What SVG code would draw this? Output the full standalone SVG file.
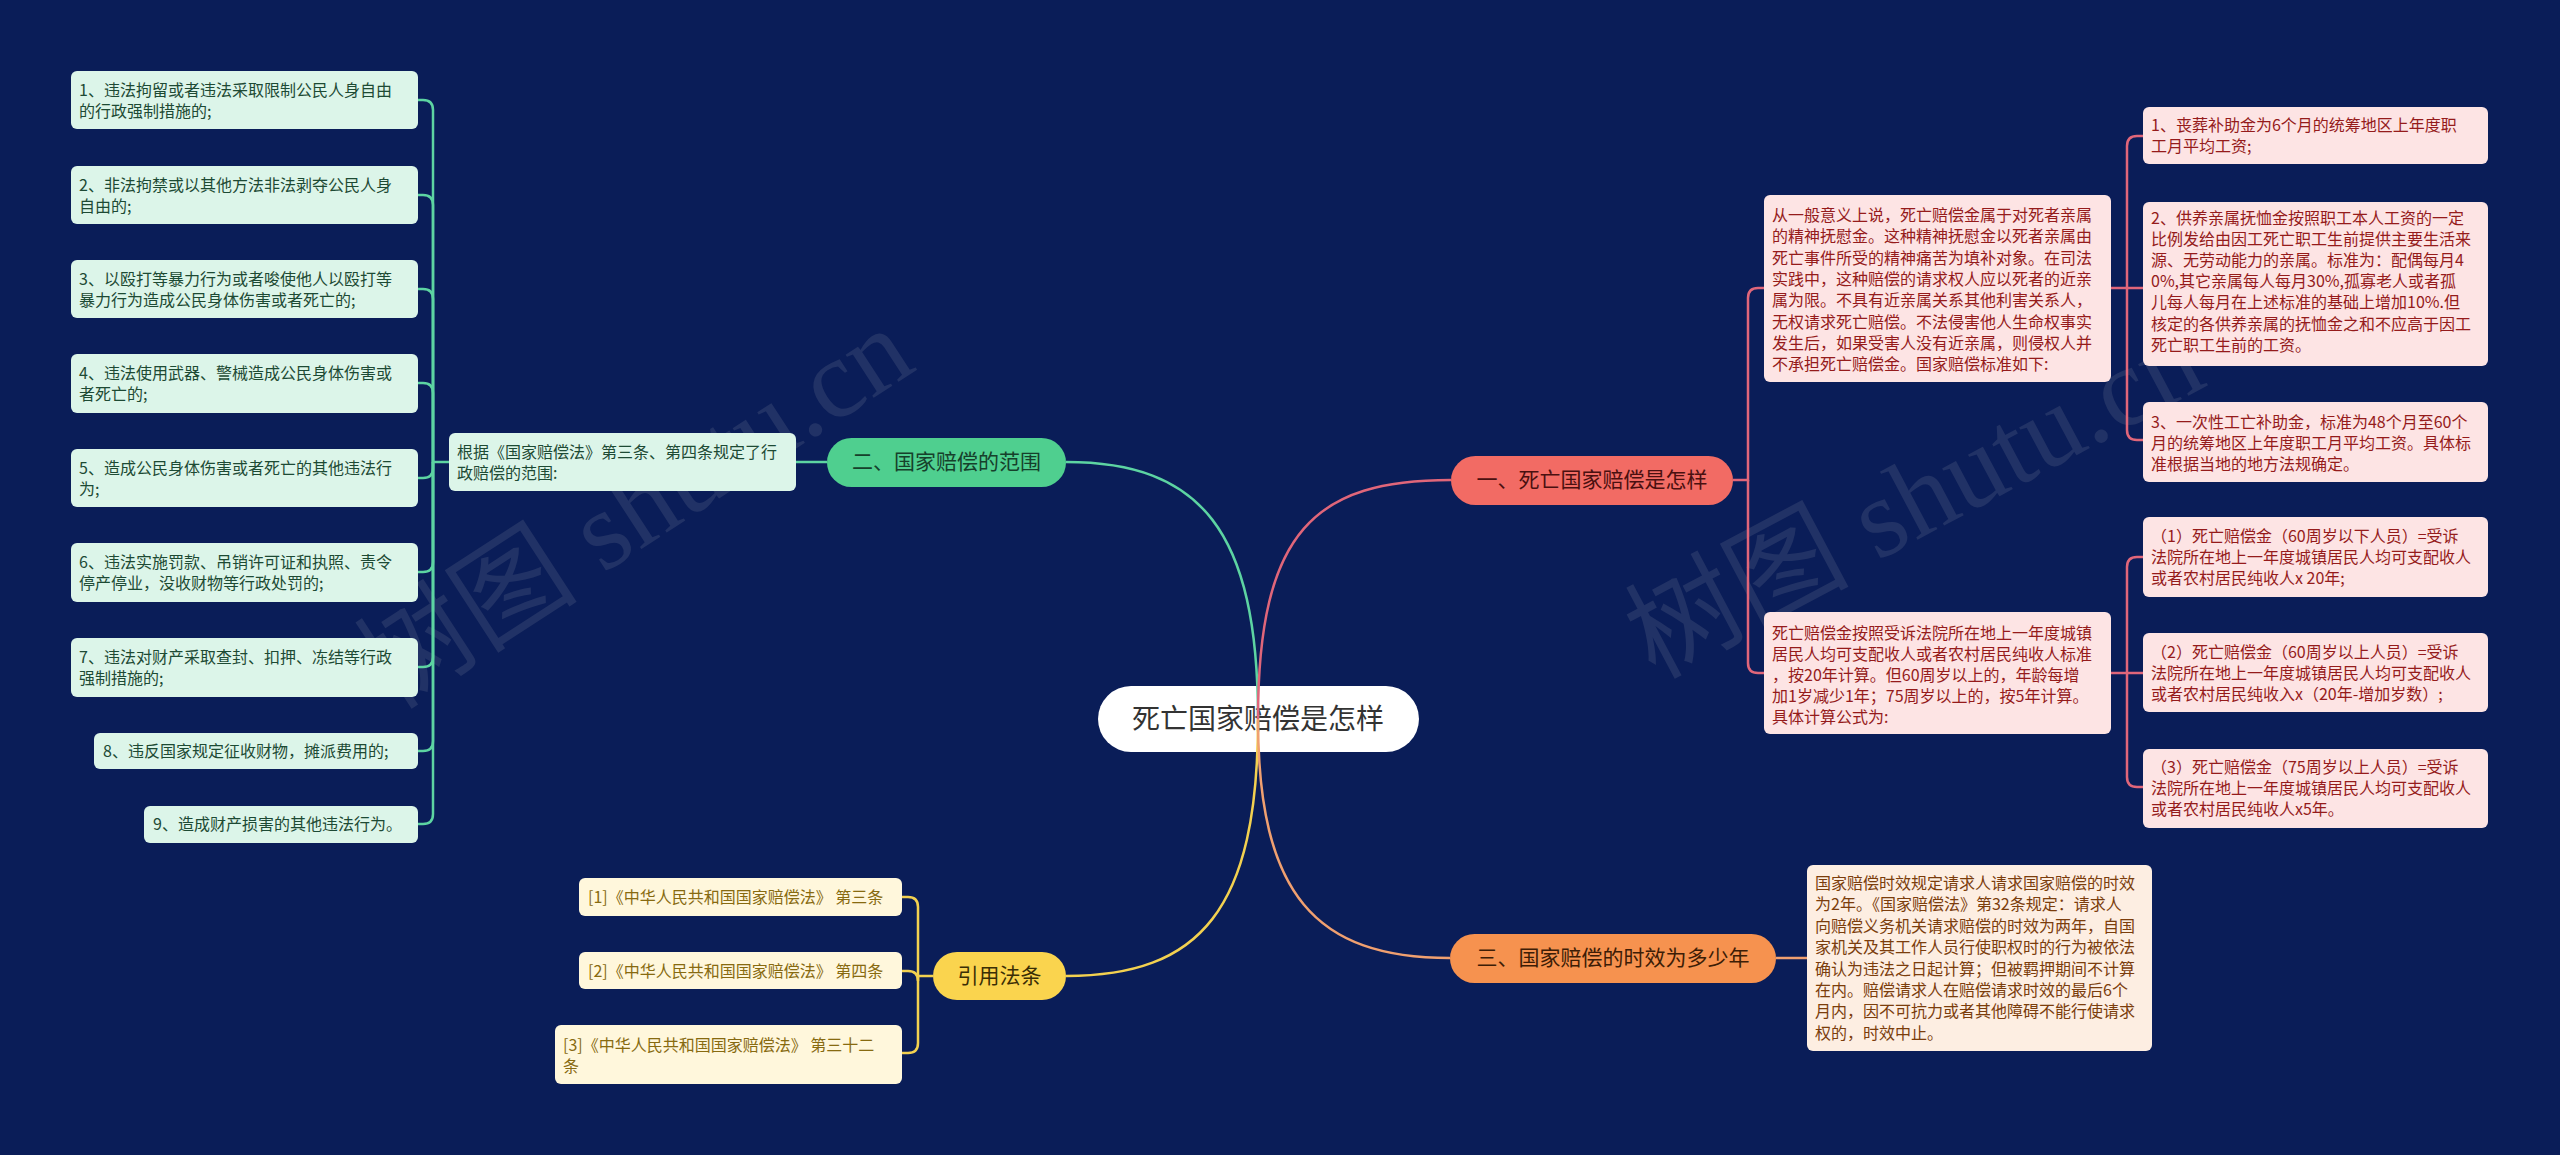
<svg xmlns="http://www.w3.org/2000/svg" width="2560" height="1155" viewBox="0 0 2560 1155">
<style>
text{font-family:"Noto Sans CJK SC","Noto Sans",sans-serif}
.bg{fill:#0a1d58}
.root{fill:#ffffff}
.rt{font-size:28px;fill:#333333;text-anchor:middle}
.bt{font-size:21px;text-anchor:middle}
.t{font-size:16px}
.gb{fill:#4fcf8f}.gbt{fill:#16402b}
.gi{fill:#dcf5e9}.git{fill:#1d4a34}
.rb{fill:#f26b64}.rbt{fill:#4a1010}
.ri{fill:#fde4e4}.rit{fill:#951b1b}
.ob{fill:#f6924f}.obt{fill:#3d1d06}
.oi{fill:#fdeee2}.oit{fill:#7b3d0c}
.yb{fill:#fad44e}.ybt{fill:#3a2e05}
.yi{fill:#fff7dc}.yit{fill:#876a10}
.c{fill:none;stroke-width:2.5}
.cg{stroke:#5dd4a2}.cr{stroke:#e0667a}.co{stroke:#f0a070}.cy{stroke:#f3d150}
.wm{font-size:112px;fill:#c8c8c8;opacity:0.12;font-family:"Liberation Serif","Noto Sans CJK SC",serif}
</style>
<rect class="bg" x="0" y="0" width="2560" height="1155"/>
<text class="wm" transform="translate(655,540) rotate(-33)" text-anchor="middle">树图 shutu.cn</text>
<text class="wm" transform="translate(1932,532) rotate(-28)" text-anchor="middle">树图 shutu.cn</text>

<g id="root">
<rect class="root" x="1098" y="686" width="321" height="66" rx="33"/>
<text class="rt" x="1258" y="729">死亡国家赔偿是怎样</text>
</g>

<g id="branch1">
<rect class="rb" x="1451" y="456" width="282" height="49" rx="24.5"/>
<text class="bt rbt" x="1592" y="487">一、死亡国家赔偿是怎样</text>
</g>
<g id="b1c1">
<rect class="ri" x="1764" y="195" width="347" height="187" rx="6"/>
<text class="t rit" x="1772" y="221">从一般意义上说，死亡赔偿金属于对死者亲属</text>
<text class="t rit" x="1772" y="242.3">的精神抚慰金。这种精神抚慰金以死者亲属由</text>
<text class="t rit" x="1772" y="263.6">死亡事件所受的精神痛苦为填补对象。在司法</text>
<text class="t rit" x="1772" y="284.9">实践中，这种赔偿的请求权人应以死者的近亲</text>
<text class="t rit" x="1772" y="306.2">属为限。不具有近亲属关系其他利害关系人，</text>
<text class="t rit" x="1772" y="327.5">无权请求死亡赔偿。不法侵害他人生命权事实</text>
<text class="t rit" x="1772" y="348.8">发生后，如果受害人没有近亲属，则侵权人并</text>
<text class="t rit" x="1772" y="370.1">不承担死亡赔偿金。国家赔偿标准如下:</text>
</g>
<g id="b1c2">
<rect class="ri" x="1764" y="612" width="347" height="122" rx="6"/>
<text class="t rit" x="1772" y="639">死亡赔偿金按照受诉法院所在地上一年度城镇</text>
<text class="t rit" x="1772" y="660">居民人均可支配收人或者农村居民纯收人标准</text>
<text class="t rit" x="1772" y="681">，按20年计算。但60周岁以上的，年龄每增</text>
<text class="t rit" x="1772" y="702">加1岁减少1年；75周岁以上的，按5年计算。</text>
<text class="t rit" x="1772" y="723">具体计算公式为:</text>
</g>
<g id="gc1">
<rect class="ri" x="2143" y="107" width="345" height="57" rx="6"/>
<text class="t rit" x="2151" y="131">1、丧葬补助金为6个月的统筹地区上年度职</text>
<text class="t rit" x="2151" y="152">工月平均工资;</text>
</g>
<g id="gc2">
<rect class="ri" x="2143" y="202" width="345" height="164" rx="6"/>
<text class="t rit" x="2151" y="224">2、供养亲属抚恤金按照职工本人工资的一定</text>
<text class="t rit" x="2151" y="245.1">比例发给由因工死亡职工生前提供主要生活来</text>
<text class="t rit" x="2151" y="266.2">源、无劳动能力的亲属。标准为：配偶每月4</text>
<text class="t rit" x="2151" y="287.3">0%,其它亲属每人每月30%,孤寡老人或者孤</text>
<text class="t rit" x="2151" y="308.4">儿每人每月在上述标准的基础上增加10%.但</text>
<text class="t rit" x="2151" y="329.5">核定的各供养亲属的抚恤金之和不应高于因工</text>
<text class="t rit" x="2151" y="350.6">死亡职工生前的工资。</text>
</g>
<g id="gc3">
<rect class="ri" x="2143" y="402" width="345" height="80" rx="6"/>
<text class="t rit" x="2151" y="428">3、一次性工亡补助金，标准为48个月至60个</text>
<text class="t rit" x="2151" y="449">月的统筹地区上年度职工月平均工资。具体标</text>
<text class="t rit" x="2151" y="470">准根据当地的地方法规确定。</text>
</g>
<g id="gc4">
<rect class="ri" x="2143" y="517" width="345" height="80" rx="6"/>
<text class="t rit" x="2151" y="542">（1）死亡赔偿金（60周岁以下人员）=受诉</text>
<text class="t rit" x="2151" y="563">法院所在地上一年度城镇居民人均可支配收人</text>
<text class="t rit" x="2151" y="584">或者农村居民纯收人x 20年;</text>
</g>
<g id="gc5">
<rect class="ri" x="2143" y="633" width="345" height="79" rx="6"/>
<text class="t rit" x="2151" y="658">（2）死亡赔偿金（60周岁以上人员）=受诉</text>
<text class="t rit" x="2151" y="679">法院所在地上一年度城镇居民人均可支配收人</text>
<text class="t rit" x="2151" y="700">或者农村居民纯收入x（20年-增加岁数）;</text>
</g>
<g id="gc6">
<rect class="ri" x="2143" y="749" width="345" height="79" rx="6"/>
<text class="t rit" x="2151" y="773">（3）死亡赔偿金（75周岁以上人员）=受诉</text>
<text class="t rit" x="2151" y="794">法院所在地上一年度城镇居民人均可支配收人</text>
<text class="t rit" x="2151" y="815">或者农村居民纯收人x5年。</text>
</g>

<g id="branch3">
<rect class="ob" x="1450" y="934" width="326" height="49" rx="24.5"/>
<text class="bt obt" x="1613" y="965">三、国家赔偿的时效为多少年</text>
</g>
<g id="b3c1">
<rect class="oi" x="1807" y="865" width="345" height="186" rx="6"/>
<text class="t oit" x="1815" y="889">国家赔偿时效规定请求人请求国家赔偿的时效</text>
<text class="t oit" x="1815" y="910.4">为2年。《国家赔偿法》第32条规定：请求人</text>
<text class="t oit" x="1815" y="931.8">向赔偿义务机关请求赔偿的时效为两年，自国</text>
<text class="t oit" x="1815" y="953.2">家机关及其工作人员行使职权时的行为被依法</text>
<text class="t oit" x="1815" y="974.6">确认为违法之日起计算；但被羁押期间不计算</text>
<text class="t oit" x="1815" y="996">在内。赔偿请求人在赔偿请求时效的最后6个</text>
<text class="t oit" x="1815" y="1017.4">月内，因不可抗力或者其他障碍不能行使请求</text>
<text class="t oit" x="1815" y="1038.8">权的，时效中止。</text>
</g>

<g id="branch2">
<rect class="gb" x="827" y="438" width="239" height="49" rx="24.5"/>
<text class="bt gbt" x="946.5" y="469">二、国家赔偿的范围</text>
</g>
<g id="b2c1">
<rect class="gi" x="449" y="433" width="347" height="58" rx="6"/>
<text class="t git" x="457" y="458">根据《国家赔偿法》第三条、第四条规定了行</text>
<text class="t git" x="457" y="479">政赔偿的范围:</text>
</g>
<g id="l1">
<rect class="gi" x="71" y="71" width="347" height="58" rx="6"/>
<text class="t git" x="79" y="96">1、违法拘留或者违法采取限制公民人身自由</text>
<text class="t git" x="79" y="117">的行政强制措施的;</text>
</g>
<g id="l2">
<rect class="gi" x="71" y="166" width="347" height="58" rx="6"/>
<text class="t git" x="79" y="191">2、非法拘禁或以其他方法非法剥夺公民人身</text>
<text class="t git" x="79" y="212">自由的;</text>
</g>
<g id="l3">
<rect class="gi" x="71" y="260" width="347" height="58" rx="6"/>
<text class="t git" x="79" y="285">3、以殴打等暴力行为或者唆使他人以殴打等</text>
<text class="t git" x="79" y="306">暴力行为造成公民身体伤害或者死亡的;</text>
</g>
<g id="l4">
<rect class="gi" x="71" y="354" width="347" height="59" rx="6"/>
<text class="t git" x="79" y="379">4、违法使用武器、警械造成公民身体伤害或</text>
<text class="t git" x="79" y="400">者死亡的;</text>
</g>
<g id="l5">
<rect class="gi" x="71" y="449" width="347" height="58" rx="6"/>
<text class="t git" x="79" y="474">5、造成公民身体伤害或者死亡的其他违法行</text>
<text class="t git" x="79" y="495">为;</text>
</g>
<g id="l6">
<rect class="gi" x="71" y="543" width="347" height="59" rx="6"/>
<text class="t git" x="79" y="568">6、违法实施罚款、吊销许可证和执照、责令</text>
<text class="t git" x="79" y="589">停产停业，没收财物等行政处罚的;</text>
</g>
<g id="l7">
<rect class="gi" x="71" y="638" width="347" height="59" rx="6"/>
<text class="t git" x="79" y="663">7、违法对财产采取查封、扣押、冻结等行政</text>
<text class="t git" x="79" y="684">强制措施的;</text>
</g>
<g id="l8">
<rect class="gi" x="94" y="733" width="324" height="36" rx="6"/>
<text class="t git" x="103" y="757">8、违反国家规定征收财物，摊派费用的;</text>
</g>
<g id="l9">
<rect class="gi" x="144" y="806" width="274" height="37" rx="6"/>
<text class="t git" x="153" y="830">9、造成财产损害的其他违法行为。</text>
</g>

<g id="branch4">
<rect class="yb" x="933" y="952" width="133" height="48" rx="24"/>
<text class="bt ybt" x="999.5" y="983">引用法条</text>
</g>
<g id="cite1">
<rect class="yi" x="579" y="878" width="323" height="38" rx="6"/>
<text class="t yit" x="588" y="903">[1]《中华人民共和国国家赔偿法》 第三条</text>
</g>
<g id="cite2">
<rect class="yi" x="579" y="952" width="323" height="37" rx="6"/>
<text class="t yit" x="588" y="977">[2]《中华人民共和国国家赔偿法》 第四条</text>
</g>
<g id="cite3">
<rect class="yi" x="555" y="1025" width="347" height="59" rx="6"/>
<text class="t yit" x="563" y="1051">[3]《中华人民共和国国家赔偿法》 第三十二</text>
<text class="t yit" x="563" y="1072">条</text>
</g>

<g id="connectors">
<path class="c cg" d="M1258,719 C1258,530 1200,462 1066,462"/>
<path class="c cr" d="M1258,719 C1258,530 1316,480 1451,480"/>
<path class="c cy" d="M1258,719 C1258,910 1200,976 1066,976"/>
<path class="c co" d="M1258,719 C1258,895 1316,958 1450,958"/>

<path class="c cg" d="M827,462 H796"/>
<path class="c cg" d="M449,462 H433 V110 Q433,100 423,100 H418"/>
<path class="c cg" d="M433,462 V205 Q433,195 423,195 H418"/>
<path class="c cg" d="M433,462 V299 Q433,289 423,289 H418"/>
<path class="c cg" d="M433,462 V393 Q433,383 423,383 H418"/>
<path class="c cg" d="M433,462 V468 Q433,478 423,478 H418"/>
<path class="c cg" d="M433,462 V562 Q433,572 423,572 H418"/>
<path class="c cg" d="M433,462 V657 Q433,667 423,667 H418"/>
<path class="c cg" d="M433,462 V741 Q433,751 423,751 H418"/>
<path class="c cg" d="M433,462 V814 Q433,824 423,824 H418"/>

<path class="c cr" d="M1733,480 H1748 V298 Q1748,288 1758,288 H1764"/>
<path class="c cr" d="M1748,480 V663 Q1748,673 1758,673 H1764"/>
<path class="c cr" d="M2111,288 H2127 V146 Q2127,136 2137,136 H2143"/>
<path class="c cr" d="M2127,288 H2143"/>
<path class="c cr" d="M2127,288 V430 Q2127,440 2137,440 H2143"/>
<path class="c cr" d="M2111,673 H2127 V567 Q2127,557 2137,557 H2143"/>
<path class="c cr" d="M2127,673 H2143"/>
<path class="c cr" d="M2127,673 V777 Q2127,787 2137,787 H2143"/>

<path class="c co" d="M1776,958 H1807"/>

<path class="c cy" d="M933,976 H918 V907 Q918,897 908,897 H902"/>
<path class="c cy" d="M918,976 V981 Q918,971 908,971 H902"/>
<path class="c cy" d="M918,976 V1043 Q918,1053 908,1053 H902"/>
</g>
</svg>
